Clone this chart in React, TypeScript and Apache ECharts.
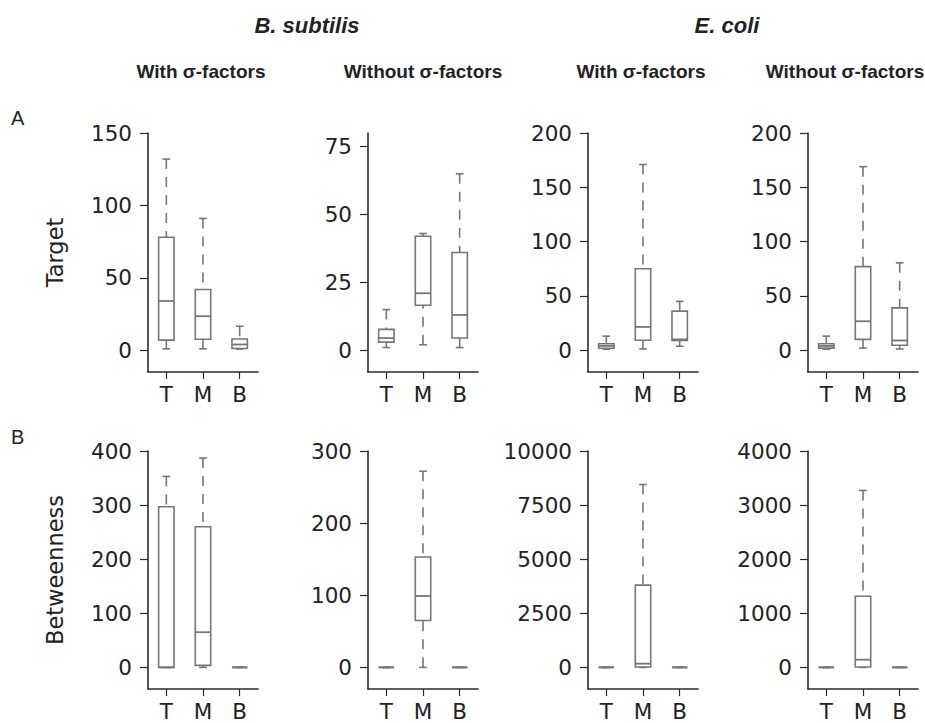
import React, { useEffect, useRef } from "react";
import * as echarts from "echarts";

// Categories
const categories = ["T", "M", "B"];

// Each box: [min (lower staple), Q1, median, Q3, max (upper staple)] for T, M, B
const bsWithTarget = [
  [1, 7, 34, 78, 132],
  [1, 7.6, 23.5, 42, 91],
  [0.8, 1.2, 4, 7.8, 16.6],
];
const bsWithoutTarget = [
  [1, 3, 4.5, 7.7, 15],
  [2, 16.6, 21, 42, 43],
  [1, 4.5, 13, 36, 65],
];
const ecWithTarget = [
  [1, 1.8, 4, 6, 13],
  [1.2, 9.2, 21.5, 75, 171],
  [3.7, 9, 10, 36, 45],
];
const ecWithoutTarget = [
  [1, 2, 4, 6, 13],
  [2, 10, 26.7, 77, 169],
  [1.2, 4.6, 9, 39, 80.5],
];
const bsWithBetw = [
  [0, 0, 0, 297, 353],
  [0, 3.7, 65, 260, 387],
  [0, 0, 0, 0, 0],
];
const bsWithoutBetw = [
  [0, 0, 0, 0, 0],
  [0, 65, 99, 153, 272],
  [0, 0, 0, 0, 0],
];
const ecWithBetw = [
  [0, 0, 0, 0, 0],
  [0, 20, 170, 3800, 8450],
  [0, 0, 0, 0, 0],
];
const ecWithoutBetw = [
  [0, 0, 0, 0, 0],
  [0, 6, 142, 1315, 3270],
  [0, 0, 0, 0, 0],
];

const panels = [
  bsWithTarget,
  bsWithoutTarget,
  ecWithTarget,
  ecWithoutTarget,
  bsWithBetw,
  bsWithoutBetw,
  ecWithBetw,
  ecWithoutBetw,
];

// Axis ranges and tick labels
const yMins = [-15, -8, -20, -20, -40, -30, -1000, -400];
const yMaxs = [150, 80, 200, 200, 400, 300, 10000, 4000];
const yTicks = [
  [0, 50, 100, 150],
  [0, 25, 50, 75],
  [0, 50, 100, 150, 200],
  [0, 50, 100, 150, 200],
  [0, 100, 200, 300, 400],
  [0, 100, 200, 300],
  [0, 2500, 5000, 7500, 10000],
  [0, 1000, 2000, 3000, 4000],
];
const rowTitles = ["Target", "Betweenness"];
const speciesTitles = ["B. subtilis", "E. coli"];
const columnTitles = ["With σ-factors", "Without σ-factors", "With σ-factors", "Without σ-factors"];
const rowLetters = ["A", "B"];

const BOX_COLOR = "#767676";
const AXIS_COLOR = "#2b2b2b";
const TEXT_COLOR = "#222";
const MONO = "DejaVu Sans";
const SANS = "Liberation Sans";

function renderBox(params: any, api: any) {
  const cat = api.value(0);
  const vals = [api.value(1), api.value(2), api.value(3), api.value(4), api.value(5)];
  const pts = vals.map((v: number) => api.coord([cat, v]));
  const cx = pts[0][0];
  const band = api.size([1, 0])[0];
  const bw = band * 0.42;
  const sw = bw * 0.5;
  const [yMin, yQ1, yMed, yQ3, yMax] = pts.map((p: number[]) => p[1]);
  const stroke = { stroke: BOX_COLOR, lineWidth: 1.6, fill: "none" };
  const dashed = { stroke: BOX_COLOR, lineWidth: 1.6, lineDash: [10, 8] };
  const children: any[] = [];
  if (Math.abs(yMax - yQ3) > 0.5) {
    children.push({ type: "line", shape: { x1: cx, y1: yMax, x2: cx, y2: yQ3 }, style: dashed });
  }
  if (Math.abs(yQ1 - yMin) > 0.5) {
    children.push({ type: "line", shape: { x1: cx, y1: yMin, x2: cx, y2: yQ1 }, style: dashed });
  }
  children.push({ type: "line", shape: { x1: cx - sw / 2, y1: yMax, x2: cx + sw / 2, y2: yMax }, style: stroke });
  children.push({ type: "line", shape: { x1: cx - sw / 2, y1: yMin, x2: cx + sw / 2, y2: yMin }, style: stroke });
  children.push({
    type: "rect",
    shape: { x: cx - bw / 2, y: yQ3, width: bw, height: yQ1 - yQ3 },
    style: { stroke: BOX_COLOR, lineWidth: 1.6, fill: "#fff" },
  });
  children.push({ type: "line", shape: { x1: cx - bw / 2, y1: yMed, x2: cx + bw / 2, y2: yMed }, style: { stroke: BOX_COLOR, lineWidth: 1.8 } });
  return { type: "group", children };
}

function buildOption() {
  const grids: any[] = [];
  const xAxes: any[] = [];
  const yAxes: any[] = [];
  const series: any[] = [];
  panels.forEach((panel, i) => {
    const col = i % 4;
    const row = Math.floor(i / 4);
    grids.push({
      left: 148 + 220 * col,
      top: row === 0 ? 133 : 451,
      width: 110,
      height: row === 0 ? 239 : 238,
      outerBoundsMode: "none",
      containLabel: false,
    });
    xAxes.push({
      type: "category",
      gridIndex: i,
      data: categories,
      boundaryGap: true,
      axisLine: { show: true, onZero: false, lineStyle: { color: AXIS_COLOR, width: 1.6 } },
      axisTick: { show: true, alignWithLabel: true, length: 7, lineStyle: { color: AXIS_COLOR, width: 1.2 } },
      axisLabel: { show: true, fontSize: 21.5, fontFamily: MONO, color: TEXT_COLOR, margin: 11, interval: 0 },
      splitLine: { show: false },
    });
    yAxes.push({
      type: "value",
      gridIndex: i,
      min: yMins[i],
      max: yMaxs[i],
      name: col === 0 ? rowTitles[row] : "",
      nameLocation: "middle",
      nameGap: 82,
      nameRotate: 90,
      nameTextStyle: { fontSize: 22.5, fontFamily: MONO, color: TEXT_COLOR },
      axisLine: { show: true, onZero: false, lineStyle: { color: AXIS_COLOR, width: 1.6 } },
      axisTick: { show: true, length: 8, customValues: yTicks[i], lineStyle: { color: AXIS_COLOR, width: 1.2 } },
      axisLabel: {
        show: true,
        customValues: yTicks[i],
        formatter: (v: number) => String(v),
        fontSize: 21.5,
        fontFamily: MONO,
        color: TEXT_COLOR,
        margin: 16,
        showMinLabel: true,
        showMaxLabel: true,
      },
      splitLine: { show: false },
    });
    series.push({
      type: "custom",
      xAxisIndex: i,
      yAxisIndex: i,
      renderItem: renderBox,
      encode: { x: 0, y: [1, 2, 3, 4, 5] },
      data: panel.map((d, j) => [j, ...d]),
      silent: true,
    });
  });

  const txt = (
    text: string,
    x: number,
    y: number,
    fontSize: number,
    fontWeight: string,
    fontStyle: string,
    align = "center"
  ) => ({
    type: "text",
    x,
    y,
    silent: true,
    style: {
      text,
      fontSize,
      fontWeight,
      fontStyle,
      fontFamily: SANS,
      fill: TEXT_COLOR,
      align,
      textAlign: align,
      verticalAlign: "middle",
      textVerticalAlign: "middle",
    },
  });

  const graphics = [
    txt(speciesTitles[0], 307, 25, 22, "bold", "italic"),
    txt(speciesTitles[1], 727, 25, 22, "bold", "italic"),
    txt(columnTitles[0], 201, 71, 19, "bold", "normal"),
    txt(columnTitles[1], 423, 71, 19, "bold", "normal"),
    txt(columnTitles[2], 641, 71, 19, "bold", "normal"),
    txt(columnTitles[3], 845, 71, 19, "bold", "normal"),
    txt(rowLetters[0], 11, 118, 20, "normal", "normal", "left"),
    txt(rowLetters[1], 11, 437, 20, "normal", "normal", "left"),
  ];

  return {
    animation: false,
    backgroundColor: "#fff",
    grid: grids,
    xAxis: xAxes,
    yAxis: yAxes,
    series,
    graphic: { elements: graphics },
  };
}

export default function App() {
  const ref = useRef<HTMLDivElement>(null);
  useEffect(() => {
    if (!ref.current) return;
    const chart = echarts.init(ref.current, undefined, { renderer: "svg" });
    chart.setOption(buildOption() as any);
    return () => chart.dispose();
  }, []);
  return (
    <div
      ref={ref}
      style={{ position: "fixed", left: 0, top: 0, width: 925, height: 723, background: "#fff" }}
    />
  );
}
